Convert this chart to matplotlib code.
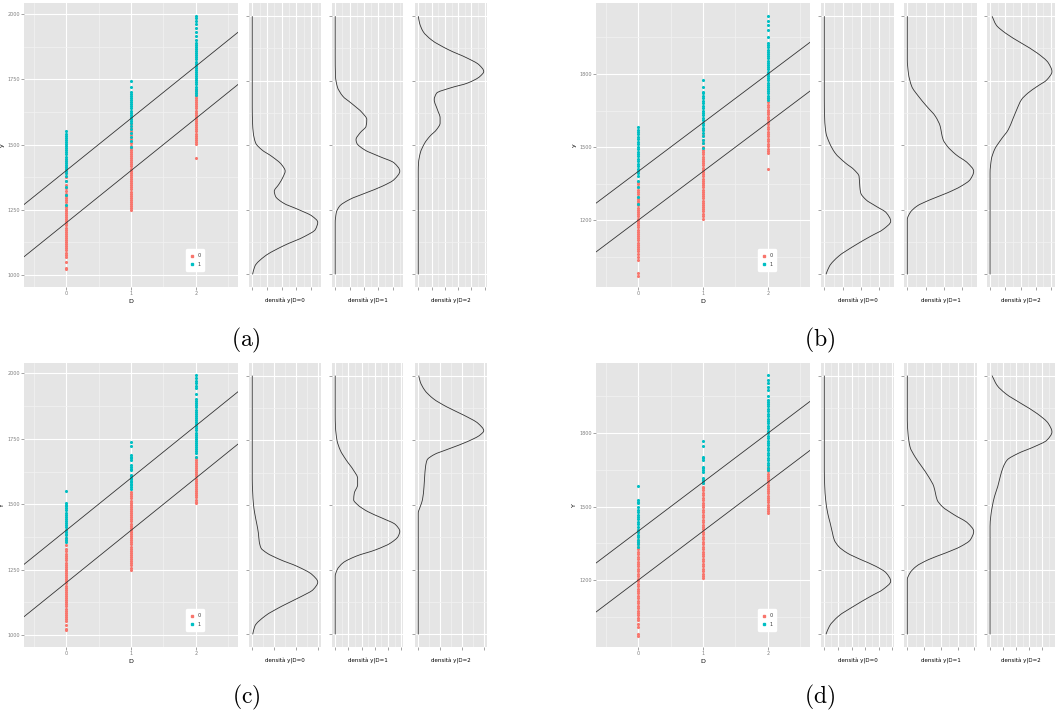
import numpy as np
import matplotlib
matplotlib.use("Agg")
import matplotlib.pyplot as plt
from matplotlib.lines import Line2D
from matplotlib.path import Path
from matplotlib.patches import PathPatch

plt.rcParams["mathtext.fontset"] = "cm"
plt.rcParams["font.family"] = ["DejaVu Sans"]

# ---------------- data ----------------
CAPTIONS = ["(a)", "(b)", "(c)", "(d)"]
Y_LABELS = ["y", "y", "Y", "Y"]
D_LEVELS = [0, 1, 2]
LEGEND_LABELS = ["0", "1"]
DENS_LABELS = ["densità y|D=0", "densità y|D=1", "densità y|D=2"]

LINE_LOW_INTERCEPT = 1200
LINE_HIGH_INTERCEPT = 1400
LINE_SLOPE = 200

YTICKS_A = [1000, 1250, 1500, 1750, 2000]
YTICKS_B = [1200, 1500, 1800]
YTICKS_C = [1000, 1250, 1500, 1750, 2000]
YTICKS_D = [1200, 1500, 1800]

YLIM_A = (953, 2041)
YLIM_B = (925, 2090)
YLIM_C = (953, 2041)
YLIM_D = (926, 2088)

# density y-range (min, max of y in each figure)
DRANGE_A = (1000, 2000)
DRANGE_B = (974, 2038)
DRANGE_C = (1000, 2000)
DRANGE_D = (975, 2037)

# scatter values: y for D=0,1,2 split by group 0 (red) / 1 (cyan)
A_r0 = [1022, 1028, 1050, 1068, 1078, 1086, 1094, 1102, 1110, 1118, 1126, 1134, 1142, 1150, 1158, 1166, 1174, 1182, 1190, 1198, 1206, 1214, 1222, 1230, 1238, 1246, 1254, 1262, 1270, 1278, 1286, 1294, 1302, 1312, 1322, 1334, 1346, 1360, 1375, 1392, 1412, 1438]
A_c0 = [1268, 1305, 1338, 1362, 1380, 1390, 1398, 1406, 1414, 1422, 1430, 1438, 1446, 1454, 1462, 1470, 1478, 1486, 1494, 1502, 1510, 1518, 1526, 1534, 1542, 1551]
A_r1 = [1248, 1256, 1264, 1272, 1280, 1288, 1296, 1304, 1312, 1320, 1328, 1336, 1344, 1352, 1360, 1368, 1376, 1384, 1392, 1400, 1408, 1416, 1424, 1432, 1440, 1448, 1456, 1464, 1472, 1480, 1488, 1496, 1506, 1520, 1535, 1550, 1565, 1580]
A_c1 = [1492, 1512, 1530, 1546, 1560, 1572, 1582, 1590, 1598, 1606, 1614, 1622, 1630, 1638, 1646, 1654, 1662, 1670, 1678, 1686, 1694, 1702, 1720, 1742]
A_r2 = [1449, 1502, 1510, 1518, 1526, 1534, 1542, 1550, 1558, 1566, 1574, 1582, 1590, 1598, 1606, 1614, 1622, 1630, 1638, 1646, 1654, 1662, 1670, 1678, 1686, 1697, 1708]
A_c2 = [1690, 1698, 1706, 1714, 1722, 1730, 1738, 1746, 1754, 1762, 1770, 1778, 1786, 1794, 1802, 1810, 1818, 1826, 1834, 1842, 1850, 1858, 1866, 1874, 1882, 1890, 1900, 1915, 1932, 1946, 1960, 1972, 1983, 1994]

B_r0 = [973, 984, 1036, 1050, 1063, 1072, 1081, 1090, 1099, 1108, 1117, 1126, 1135, 1144, 1153, 1162, 1171, 1180, 1189, 1198, 1207, 1216, 1225, 1234, 1243, 1252, 1261, 1270, 1279, 1288, 1297, 1306, 1315, 1326, 1337, 1348, 1358]
B_c0 = [1268, 1296, 1337, 1360, 1380, 1392, 1402, 1412, 1422, 1432, 1442, 1452, 1462, 1472, 1482, 1492, 1502, 1512, 1522, 1532, 1542, 1552, 1562, 1572, 1584]
B_r1 = [1207, 1218, 1227, 1236, 1245, 1254, 1263, 1272, 1281, 1290, 1299, 1308, 1317, 1326, 1335, 1344, 1353, 1362, 1371, 1380, 1389, 1398, 1407, 1416, 1425, 1434, 1443, 1452, 1461, 1470, 1479, 1488, 1500, 1515, 1530, 1548, 1570]
B_c1 = [1495, 1515, 1530, 1545, 1558, 1570, 1580, 1590, 1600, 1610, 1620, 1630, 1640, 1650, 1660, 1670, 1680, 1690, 1700, 1710, 1720, 1727, 1748, 1775]
B_r2 = [1410, 1474, 1484, 1494, 1504, 1514, 1524, 1534, 1544, 1554, 1564, 1574, 1584, 1594, 1604, 1614, 1624, 1634, 1644, 1654, 1664, 1674, 1686, 1700]
B_c2 = [1693, 1702, 1711, 1720, 1729, 1738, 1747, 1756, 1765, 1774, 1783, 1792, 1801, 1810, 1819, 1828, 1837, 1846, 1855, 1864, 1873, 1882, 1891, 1900, 1910, 1918, 1926, 1953, 1981, 2001, 2019, 2038]

C_r0 = [1018, 1024, 1040, 1052, 1062, 1069, 1077, 1085, 1093, 1101, 1109, 1117, 1125, 1133, 1141, 1149, 1157, 1165, 1173, 1181, 1189, 1197, 1205, 1213, 1221, 1229, 1237, 1245, 1253, 1261, 1269, 1277, 1285, 1293, 1301, 1310, 1320, 1330, 1345, 1360, 1369]
C_c0 = [1356, 1364, 1369, 1381, 1388, 1395, 1400, 1413, 1420, 1428, 1436, 1444, 1452, 1460, 1468, 1476, 1484, 1492, 1498, 1503, 1551]
C_r1 = [1250, 1258, 1266, 1274, 1282, 1290, 1298, 1306, 1314, 1322, 1330, 1338, 1346, 1354, 1362, 1370, 1378, 1386, 1394, 1402, 1410, 1418, 1426, 1434, 1442, 1450, 1458, 1466, 1474, 1482, 1490, 1498, 1506, 1514, 1522, 1530, 1538, 1547]
C_c1 = [1560, 1566, 1572, 1578, 1584, 1590, 1596, 1602, 1608, 1611, 1630, 1636, 1642, 1649, 1668, 1676, 1682, 1687, 1722, 1739]
C_r2 = [1503, 1510, 1518, 1526, 1534, 1542, 1550, 1558, 1566, 1574, 1582, 1590, 1598, 1606, 1614, 1622, 1630, 1638, 1646, 1654, 1662, 1670, 1675]
C_c2 = [1680, 1694, 1702, 1710, 1718, 1726, 1734, 1742, 1750, 1758, 1766, 1774, 1782, 1790, 1798, 1806, 1814, 1822, 1830, 1838, 1846, 1854, 1862, 1870, 1878, 1886, 1894, 1904, 1923, 1943, 1952, 1962, 1972, 1981, 1994]

D_r0 = [974, 982, 1009, 1022, 1036, 1046, 1056, 1066, 1076, 1086, 1096, 1106, 1116, 1126, 1136, 1146, 1156, 1166, 1176, 1186, 1196, 1206, 1216, 1226, 1236, 1246, 1256, 1266, 1276, 1286, 1296, 1306, 1316, 1326, 1336, 1346, 1356, 1364, 1380, 1395, 1405]
D_c0 = [1336, 1346, 1356, 1366, 1376, 1386, 1396, 1405, 1418, 1428, 1438, 1448, 1458, 1468, 1478, 1488, 1500, 1514, 1520, 1527, 1585]
D_r1 = [1207, 1217, 1227, 1237, 1247, 1257, 1267, 1277, 1287, 1297, 1307, 1317, 1327, 1337, 1347, 1357, 1367, 1377, 1387, 1397, 1407, 1417, 1427, 1437, 1447, 1457, 1467, 1477, 1487, 1497, 1507, 1517, 1527, 1537, 1547, 1557, 1567, 1577, 1582, 1595, 1609]
D_c1 = [1595, 1603, 1610, 1616, 1643, 1650, 1657, 1664, 1691, 1698, 1705, 1748, 1770]
D_r2 = [1473, 1482, 1491, 1500, 1509, 1518, 1527, 1536, 1545, 1554, 1563, 1572, 1581, 1590, 1599, 1608, 1617, 1626, 1635, 1644, 1653, 1664]
D_c2 = [1650, 1660, 1670, 1680, 1690, 1700, 1710, 1720, 1730, 1740, 1750, 1760, 1770, 1780, 1790, 1800, 1810, 1820, 1830, 1840, 1850, 1860, 1870, 1880, 1890, 1900, 1910, 1920, 1928, 1936, 1950, 1977, 1990, 2004, 2018, 2039]

# density curves (y value, density in tick units)
A0_y = [1000, 1032, 1071, 1110, 1148, 1174, 1202, 1226, 1251, 1277, 1303, 1322, 1348, 1380, 1400, 1425, 1457, 1483, 1509, 1548, 1586, 1650, 1800, 2000]
A0_d = [0.02, 0.18, 0.87, 2.1, 3.6, 4.3, 4.46, 4.07, 3.15, 2.1, 1.58, 1.5, 1.8, 2.12, 2.24, 2.0, 1.33, 0.64, 0.23, 0.07, 0.02, 0, 0, 0]
A1_y = [1000, 1200, 1238, 1264, 1290, 1316, 1342, 1367, 1400, 1432, 1457, 1483, 1509, 1522, 1548, 1574, 1600, 1625, 1664, 1690, 1728, 1767, 1850, 2000]
A1_d = [0, 0, 0.07, 0.3, 1.0, 2.15, 3.3, 4.1, 4.5, 4.1, 3.07, 2.03, 1.5, 1.45, 1.73, 2.15, 2.2, 1.9, 1.1, 0.53, 0.14, 0.02, 0, 0]
A2_y = [1000, 1400, 1432, 1470, 1509, 1535, 1561, 1586, 1606, 1638, 1677, 1702, 1722, 1741, 1767, 1786, 1812, 1838, 1870, 1908, 1941, 1973, 2000]
A2_d = [0, 0, 0.02, 0.15, 0.49, 0.87, 1.38, 1.64, 1.64, 1.44, 1.2, 1.38, 2.4, 3.7, 4.64, 4.92, 4.56, 3.67, 2.28, 1.0, 0.36, 0.1, 0.0]

B0_y = [974, 1008, 1049, 1091, 1132, 1159, 1193, 1228, 1255, 1282, 1310, 1337, 1378, 1406, 1433, 1474, 1516, 1557, 1612, 1700, 2038]
B0_d = [0.09, 0.28, 0.78, 1.61, 2.54, 3.19, 3.61, 3.37, 2.81, 2.26, 1.98, 1.93, 1.89, 1.61, 1.15, 0.59, 0.28, 0.09, 0.02, 0, 0]
B1_y = [974, 1200, 1228, 1255, 1282, 1310, 1337, 1365, 1399, 1433, 1468, 1502, 1529, 1557, 1584, 1625, 1666, 1708, 1749, 1803, 1858, 2038]
B1_d = [0, 0, 0.15, 0.52, 1.26, 2.19, 2.93, 3.44, 3.63, 3.3, 2.65, 2.19, 1.96, 1.87, 1.8, 1.54, 1.07, 0.61, 0.24, 0.06, 0, 0]
B2_y = [974, 1392, 1447, 1488, 1529, 1570, 1612, 1653, 1694, 1721, 1749, 1776, 1810, 1845, 1886, 1927, 1968, 2002, 2038]
B2_d = [0, 0, 0.08, 0.29, 0.71, 1.19, 1.48, 1.75, 2.06, 2.48, 3.1, 3.73, 4.06, 3.83, 3.1, 2.06, 1.02, 0.4, 0.13]

C0_y = [1000, 1032, 1071, 1109, 1148, 1173, 1202, 1231, 1263, 1289, 1315, 1334, 1359, 1392, 1430, 1469, 1507, 1546, 1600, 2000]
C0_d = [0.02, 0.12, 0.59, 1.36, 2.29, 2.8, 3.01, 2.75, 2.06, 1.28, 0.66, 0.4, 0.32, 0.28, 0.2, 0.11, 0.05, 0.02, 0, 0]
C1_y = [1000, 1225, 1250, 1276, 1302, 1327, 1353, 1379, 1398, 1424, 1449, 1475, 1501, 1520, 1546, 1578, 1603, 1635, 1674, 1712, 1751, 1802, 1850, 2000]
C1_d = [0, 0, 0.15, 0.58, 1.58, 3.08, 4.2, 4.78, 4.9, 4.58, 3.58, 2.45, 1.7, 1.4, 1.45, 1.7, 1.7, 1.38, 0.83, 0.38, 0.13, 0.02, 0, 0]
C2_y = [1000, 1469, 1494, 1520, 1571, 1610, 1648, 1674, 1693, 1719, 1745, 1771, 1787, 1815, 1847, 1879, 1911, 1944, 1976, 2000]
C2_d = [0, 0, 0.09, 0.19, 0.26, 0.29, 0.33, 0.4, 0.68, 1.45, 2.23, 2.81, 2.97, 2.72, 2.07, 1.3, 0.68, 0.29, 0.09, 0.02]

D0_y = [975, 1009, 1050, 1091, 1132, 1159, 1193, 1227, 1254, 1282, 1309, 1336, 1363, 1391, 1432, 1472, 1527, 1582, 1650, 2037]
D0_d = [0.12, 0.38, 1.05, 2.18, 3.43, 4.3, 4.88, 4.55, 3.8, 2.68, 1.68, 1.05, 0.73, 0.6, 0.43, 0.25, 0.1, 0.03, 0, 0]
D1_y = [975, 1200, 1227, 1254, 1282, 1309, 1336, 1363, 1398, 1432, 1466, 1500, 1527, 1554, 1582, 1622, 1663, 1704, 1745, 1800, 1854, 2037]
D1_d = [0, 0, 0.16, 0.53, 1.27, 2.28, 3.19, 3.76, 3.96, 3.6, 2.79, 2.08, 1.78, 1.68, 1.58, 1.27, 0.87, 0.46, 0.16, 0.04, 0, 0]
D2_y = [975, 1418, 1459, 1500, 1541, 1582, 1622, 1663, 1691, 1718, 1745, 1772, 1806, 1840, 1881, 1922, 1963, 1997, 2037]
D2_d = [0, 0, 0.05, 0.17, 0.34, 0.59, 0.78, 1.02, 1.32, 2.17, 3.39, 4.37, 4.76, 4.49, 3.63, 2.41, 1.2, 0.54, 0.15]

# ---------------- layout / style ----------------
W, H = 1056, 715
RED = "#F8766D"
CYAN = "#00BFC4"
BG = "#E5E5E5"
GREY = "#7F7F7F"

fig = plt.figure(figsize=(W / 100, H / 100), dpi=100)
fig.patch.set_facecolor("white")


def add_ax(x0, x1, y0, y1):
    return fig.add_axes([x0 / W, 1 - y1 / H, (x1 - x0) / W, (y1 - y0) / H])


def gg_style(ax):
    ax.set_facecolor(BG)
    for s in ax.spines.values():
        s.set_visible(False)
    ax.set_axisbelow(True)
    ax.tick_params(which="major", length=2, width=0.5, color=GREY,
                   labelsize=3.5, labelcolor=GREY, pad=1)
    ax.tick_params(which="minor", length=0)
    ax.grid(which="major", color="white", linewidth=0.8)
    ax.grid(which="minor", color="#F2F2F2", linewidth=0.5)


def smooth_curve_path(yv, dv):
    """Monotone-cubic (Hermite) Bezier path through the read points; drawn as (density, y)."""
    y = np.asarray(yv, float)
    d = np.asarray(dv, float)
    h = np.diff(y)
    s = np.diff(d) / h
    m = np.zeros_like(d)
    m[0], m[-1] = s[0], s[-1]
    for i in range(1, len(d) - 1):
        if s[i - 1] * s[i] <= 0:
            m[i] = 0.0
        else:
            w1 = 2 * h[i] + h[i - 1]
            w2 = h[i] + 2 * h[i - 1]
            m[i] = (w1 + w2) / (w1 / s[i - 1] + w2 / s[i])
    verts = [(d[0], y[0])]
    codes = [Path.MOVETO]
    for i in range(len(d) - 1):
        verts += [(d[i] + m[i] * h[i] / 3, y[i] + h[i] / 3),
                  (d[i + 1] - m[i + 1] * h[i] / 3, y[i + 1] - h[i] / 3),
                  (d[i + 1], y[i + 1])]
        codes += [Path.CURVE4, Path.CURVE4, Path.CURVE4]
    return Path(verts, codes)


groups = [
    dict(main=(24, 238), dens=[(249, 321), (332, 403), (415, 487)], rows=(3.3, 287.3),
         cap=(246, 340), yt=YTICKS_A, yl=YLIM_A, dr=DRANGE_A,
         red=[A_r0, A_r1, A_r2], cyan=[A_c0, A_c1, A_c2],
         dy=[A0_y, A1_y, A2_y], dd=[A0_d, A1_d, A2_d]),
    dict(main=(596, 810), dens=[(821, 894), (904, 977), (987, 1055)], rows=(3.3, 287.3),
         cap=(820, 340), yt=YTICKS_B, yl=YLIM_B, dr=DRANGE_B,
         red=[B_r0, B_r1, B_r2], cyan=[B_c0, B_c1, B_c2],
         dy=[B0_y, B1_y, B2_y], dd=[B0_d, B1_d, B2_d]),
    dict(main=(24, 238), dens=[(249, 321), (332, 403), (415, 487)], rows=(362.7, 647.3),
         cap=(246, 697), yt=YTICKS_C, yl=YLIM_C, dr=DRANGE_C,
         red=[C_r0, C_r1, C_r2], cyan=[C_c0, C_c1, C_c2],
         dy=[C0_y, C1_y, C2_y], dd=[C0_d, C1_d, C2_d]),
    dict(main=(596, 810), dens=[(821, 894), (904, 977), (987, 1055)], rows=(362.7, 647.3),
         cap=(820, 697), yt=YTICKS_D, yl=YLIM_D, dr=DRANGE_D,
         red=[D_r0, D_r1, D_r2], cyan=[D_c0, D_c1, D_c2],
         dy=[D0_y, D1_y, D2_y], dd=[D0_d, D1_d, D2_d]),
]

for gi, g in enumerate(groups):
    y0, y1 = g["rows"]
    ax = add_ax(g["main"][0], g["main"][1], y0, y1)
    gg_style(ax)
    for k, d in enumerate(D_LEVELS):
        ax.scatter([d] * len(g["red"][k]), g["red"][k], s=5, color=RED, linewidths=0, zorder=3)
        ax.scatter([d] * len(g["cyan"][k]), g["cyan"][k], s=5, color=CYAN, linewidths=0, zorder=3)
    ax.axline((0, LINE_LOW_INTERCEPT), slope=LINE_SLOPE, color="#333333", lw=0.6, zorder=4)
    ax.axline((0, LINE_HIGH_INTERCEPT), slope=LINE_SLOPE, color="#333333", lw=0.6, zorder=4)
    ax.set_xticks(D_LEVELS)
    ax.set_xticklabels([str(d) for d in D_LEVELS])
    ax.set_xticks([-0.5, 0.5, 1.5, 2.5], minor=True)
    yt = g["yt"]
    ylo, yhi = g["yl"]
    ax.set_yticks(yt)
    ax.set_yticklabels([str(v) for v in yt])
    step = yt[1] - yt[0]
    ymin_ticks = [v + step / 2 for v in [yt[0] - step] + yt]
    ax.set_yticks([v for v in ymin_ticks if ylo < v < yhi], minor=True)
    ax.set_xlim(-0.65, 2.65)
    ax.set_ylim(ylo, yhi)
    ax.set_xlabel("D", fontsize=4.5, labelpad=1.5)
    ax.set_ylabel(Y_LABELS[gi], fontsize=4.5, labelpad=1.5)
    handles = [Line2D([], [], marker="s", ls="", color=RED, markersize=1.8),
               Line2D([], [], marker="s", ls="", color=CYAN, markersize=1.8)]
    leg = ax.legend(handles, LEGEND_LABELS, loc="center", bbox_to_anchor=(0.80, 0.096),
                    fontsize=3.5, frameon=True, facecolor="white", edgecolor="white",
                    framealpha=1, handlelength=0.7, handletextpad=0.8, borderpad=0.8,
                    labelspacing=0.7, borderaxespad=0)
    for t in leg.get_texts():
        t.set_color("#333333")

    lo, hi = g["dr"]
    pad = 0.05 * (hi - lo)
    for k in range(3):
        dx0, dx1 = g["dens"][k]
        dax = add_ax(dx0, dx1, y0, y1)
        gg_style(dax)
        dvals = g["dd"][k]
        dax.add_patch(PathPatch(smooth_curve_path(g["dy"][k], dvals), fill=False,
                                edgecolor="#333333", lw=0.6, zorder=3))
        mx = max(dvals)
        xr = mx * 1.05
        xt = list(range(0, int(np.floor(xr)) + 1))
        dax.set_xticks(xt)
        dax.set_xticklabels([""] * len(xt))
        dax.set_xticks([v + 0.5 for v in xt if v + 0.5 < xr], minor=True)
        yts = np.linspace(lo, hi, 5)
        dax.set_yticks(yts)
        dax.set_yticklabels([""] * 5)
        dax.set_yticks((yts[:-1] + yts[1:]) / 2, minor=True)
        dax.set_xlim(-0.05 * mx, xr)
        dax.set_ylim(lo - pad, hi + pad)
        dax.set_xlabel(DENS_LABELS[k], fontsize=4, labelpad=4)

    fig.text(g["cap"][0] / W, 1 - g["cap"][1] / H, r"$\mathrm{" + CAPTIONS[gi] + "}$",
             fontsize=17, ha="center", va="center")

fig.savefig("out.png", dpi=100, facecolor="white")
